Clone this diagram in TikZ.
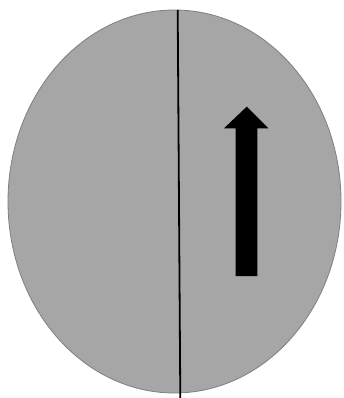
\documentclass[tikz,border=0pt]{standalone}
\begin{document}
\begin{tikzpicture}[x=1pt,y=-1pt]
\definecolor{bodyfill}{HTML}{A6A6A6}
\definecolor{bodyedge}{HTML}{7F7F7F}
\useasboundingbox[fill=white] (0,0) rectangle (343,398);
\fill[bodyfill,draw=bodyedge,line width=0.8pt] (174.5,201.5) ellipse [x radius=166.5, y radius=191.5];
\draw[black,line width=1.8pt] (177.7,10) -- (180.3,398);
\fill[black] (246.7,106.7) -- (268.3,128.3) -- (257.3,128.3) -- (257.3,276) -- (235.7,276) -- (235.7,128.3) -- (224,128.3) -- cycle;
\end{tikzpicture}
\end{document}
